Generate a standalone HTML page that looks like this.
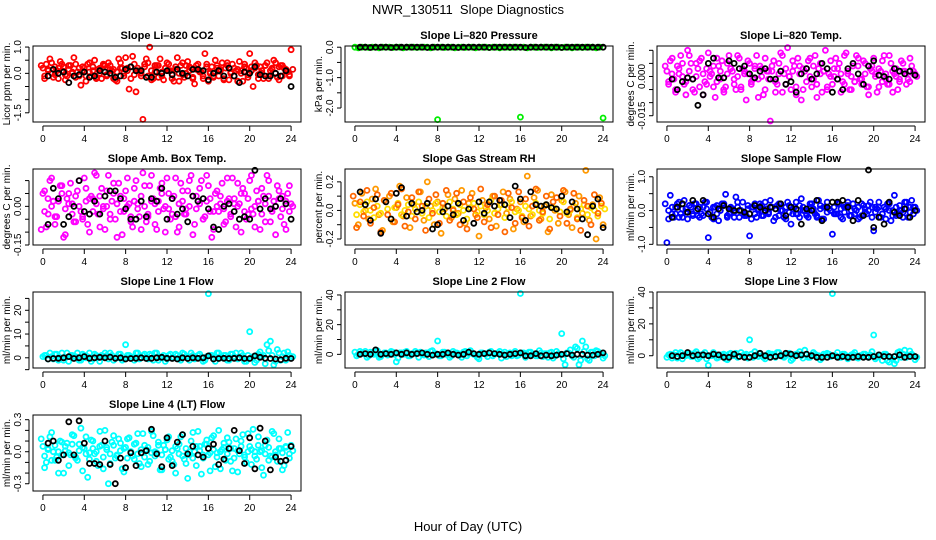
<!DOCTYPE html>
<html><head><meta charset="utf-8"><title>NWR_130511 Slope Diagnostics</title>
<style>
html,body{margin:0;padding:0;background:#fff;}
svg{display:block;font-family:"Liberation Sans",Arial,sans-serif;}
</style></head>
<body>
<svg id="chart" width="936" height="540" viewBox="0 0 936 540" xmlns="http://www.w3.org/2000/svg">
<rect x="0" y="0" width="936" height="540" fill="#fff"/>
<text x="468" y="14" font-size="13" text-anchor="middle" xml:space="preserve">NWR_130511  Slope Diagnostics</text>
<text x="468" y="531" font-size="13" text-anchor="middle">Hour of Day (UTC)</text>
</svg>
<script>
// shared x categories
const hoursColor = [0,0.33,0.67,1,1.33,1.67,2,2.33,2.67,3,
3.33,3.67,4,4.33,4.67,5,5.33,5.67,6,6.33,
6.67,7,7.33,7.67,8,8.33,8.67,9,9.33,9.67,
10,10.33,10.67,11,11.33,11.67,12,12.33,12.67,13,
13.33,13.67,14,14.33,14.67,15,15.33,15.67,16,16.33,
16.67,17,17.33,17.67,18,18.33,18.67,19,19.33,19.67,
20,20.33,20.67,21,21.33,21.67,22,22.33,22.67,23,
23.33,23.67,24];
const hoursBlack = [0.5,1,1.5,2,2.5,3,3.5,4,4.5,5,
5.5,6,6.5,7,7.5,8,8.5,9,9.5,10,
10.5,11,11.5,12,12.5,13,13.5,14,14.5,15,
15.5,16,16.5,17,17.5,18,18.5,19,19.5,20,
20.5,21,21.5,22,22.5,23,23.5,24];
const xTicks = [0,4,8,12,16,20,24];

// Panel 1: CO2 (ppm/min)
const co2A = [0.2,0.35,0.55,-0.15,0.1,0.45,0.25,-0.1,0.3,0.6,
0.05,-0.45,0.2,0.35,-0.1,0.5,0.15,-0.2,0.3,0.4,
0.1,-0.25,0.55,0.2,0.6,-0.6,0.65,-0.7,0.1,-1.75,
0.55,1.0,-0.2,0.3,0.55,-0.25,0.4,0.1,-0.3,0.6,
0.3,-0.15,0.45,0.2,-0.4,0.35,0.05,0.75,-0.3,0.25,
0.5,-0.1,0.4,0.2,-0.25,0.35,0.1,0.45,-0.3,0.2,
0.75,-0.5,0.3,0.25,-0.2,0.4,0.1,0.5,-0.15,0.3,
0.2,0.05,0.9];
const co2B = [-0.1,0.15,0.0,0.25,-0.2,0.1,-0.05,0.3,0.05,-0.15,
0.2,0.1,-0.1,0.05,0.25,-0.2,0.0,0.3,-0.1,0.15,
-0.2,0.05,0.2,-0.1,0.1,0.25,-0.05,0.2,0.0,0.35,
-0.1,0.1,0.3,-0.15,0.05,0.2,0.1,-0.2,0.25,0.0,
-0.05,0.3,0.1,-0.2,0.15,0.05,-0.1,0.25,0.0,-0.15,
0.2,0.1,-0.2,0.3,0.05,-0.1,0.15,0.0,0.25,-0.15,
0.1,0.2,-0.05,0.0,0.3,-0.2,0.15,0.0,0.25,-0.1,
0.1,-0.05,0.15];
const co2C = [0.3,-0.2,0.1,0.4,-0.05,0.2,0.35,-0.25,0.15,0.0,
0.35,-0.1,0.25,-0.3,0.4,0.1,-0.15,0.2,0.35,-0.05,
0.3,0.15,-0.3,0.4,0.0,0.2,-0.2,0.35,0.1,-0.1,
0.25,0.4,-0.25,0.05,0.3,-0.1,0.2,0.35,-0.05,0.15,
-0.3,0.4,0.0,0.25,-0.15,0.3,0.1,-0.2,0.35,0.05,
-0.1,0.3,0.15,-0.25,0.4,0.0,0.2,-0.3,0.1,0.35,
-0.05,0.25,0.4,-0.2,0.1,0.3,-0.1,0.2,0.4,-0.25,
0.3,0.15,-0.1];
const co2K = [-0.1,0.15,0.0,0.05,-0.35,-0.1,-0.05,0.05,-0.15,-0.1,
0.1,0.05,0.0,-0.15,-0.1,0.15,0.25,0.1,0.1,-0.15,
-0.15,0.05,0.0,0.1,-0.05,0.15,0.0,-0.1,0.15,0.15,
0.1,-0.25,0.0,0.1,-0.1,0.2,-0.1,-0.35,0.05,0.0,
0.25,-0.05,-0.1,-0.1,0.0,-0.1,0.1,-0.5];

// Panel 2: Pressure (kPa/min)
const presA = [0,-0.02,0,0,-0.01,0,0,-0.02,0,0,
0,-0.01,0,0,-0.02,0,0,0,-0.01,0,
0,0,-0.02,0,-2.38,0,-0.01,0,0,-0.02,
0,0,-0.01,0,0,-0.02,0,0,0,-0.01,
0,0,-0.02,0,0,-0.01,0,0,-2.3,0,
-0.02,0,0,-0.01,0,0,0,-0.02,0,0,
-0.01,0,0,-0.02,0,0,-0.01,0,0,0,
-0.02,0,-2.33];
const presK = [0,0,-0.01,0,0,0,-0.01,0,0,0,
0,0,0,-0.01,0,0,0,0,0,-0.01,
0,0,0,0,0,-0.01,0,0,0,0,
0,0,-0.01,0,0,0,0,0,0,-0.01,
0,0,0,0,0,0,0,0];

// Panel 3: Li-820 Temp (milli-degC/min)
const tempA = [2,6,-1,4,8,-3,10,5,-6,3,
7,-2,9,1,-8,4,6,-4,8,2,
-5,7,3,-9,5,-1,8,4,-7,2,
-17,6,-3,9,1,11,-5,4,7,-9,
2,6,-4,8,3,-6,10,1,-3,7,
5,-2,9,-5,4,8,-1,6,-4,3,
7,-6,2,8,-3,5,1,-5,6,2,
-1,4,1];
const tempB = [-2,1,-5,3,0,-7,2,-1,5,-4,
1,-3,0,4,-2,2,-5,1,3,-1,
0,-4,2,1,-3,3,-1,0,-5,2,
4,-2,1,-6,3,0,2,-4,1,3,
-2,0,4,-3,1,2,-5,0,3,-1,
1,-3,2,0,-2,4,-1,1,-4,2,
0,3,-2,1,-3,2,0,-1,2,1,
-2,1,0];
const tempC = [4,-3,7,-6,1,5,-2,8,-5,0,
6,-7,3,2,-4,7,-1,-6,5,3,
-3,8,-5,1,6,-2,4,-8,3,7,
-1,2,-6,5,8,-3,0,6,-7,4,
-5,3,7,-1,-8,5,2,-4,6,0,
3,-6,8,1,-5,-2,7,-3,5,-7,
4,1,-4,6,-1,8,-6,3,-2,5,
-3,7,2];
const tempK = [-1,-5,-2,-0.5,-1,-11,-7,5,7,-0.5,
-0.5,6,5,3,4,1,-0.5,2,3,-1,
-1,2,-3,-2,-6,1,3,-1,1,5,
3,-6,-1,-5,3,5,1,-3,4,6,
0.5,0,-1,3,2,1,2,0.5];

// Panel 4: Amb. Box Temp (centi-degC/min)
const ambA = [5,-8,10,2,-4,8,-12,3,9,-6,
6,-2,11,-7,4,13,-3,7,-9,12,
2,-5,9,-11,6,1,-8,10,-4,13,
-6,8,3,-9,7,-1,11,-5,4,-10,
9,-3,6,12,-7,2,10,-4,8,-12,
5,-2,9,-6,3,11,-8,1,7,-5,
10,-3,6,-9,4,12,-6,2,8,-4,
-7,5,1];
const ambB = [-2,3,0,-4,2,5,-1,1,-3,4,
0,-5,2,3,-2,1,4,-1,0,-3,
5,1,-2,3,0,-4,2,-1,4,0,
-3,2,1,-2,5,0,-1,3,-4,1,
2,-3,0,4,-1,1,-5,2,3,-2,
0,4,-1,2,-3,1,0,5,-2,3,
-1,0,2,-3,1,4,-2,0,3,-1,
2,-2,0];
const ambC = [-9,6,-3,11,-7,2,8,-11,5,1,
-6,10,-4,7,-10,3,12,-8,0,6,
-5,9,-12,4,-2,11,-6,7,1,-9,
8,-4,12,-7,2,9,-10,5,-3,11,
-8,6,-1,10,-11,4,7,-5,12,-2,
-9,6,1,-7,11,-4,3,9,-10,5,
-3,12,-8,2,7,-6,10,-1,-11,6,
4,-9,8];
const ambK = [-7,7,3,-7,-4,0,10,-2,-3,2,
-3,4,6,6,3,-1,-5,-5,2,-4,
3,2,7,-5,3,-3,-1,-6,4,2,
3,-1,-8,-9,0,1,-2,-5,-4,-5,
14,-1,3,-1,0,3,1,-5];

// Panel 5: Gas Stream RH (centi-percent/min)
const rhA = [5,-10,12,0,-6,8,15,-3,-14,6,
10,-8,2,17,-4,9,-12,4,-1,13,
-7,20,3,-10,6,-16,1,11,-5,8,
-2,14,-9,5,12,-3,-18,7,2,-6,
10,-11,4,13,-2,8,-13,1,6,-8,
24,-4,9,14,-6,3,-15,11,0,-9,
7,13,-3,-12,5,10,-2,28,-7,4,
-20,9,-10];
const rhB = [-3,4,-1,6,0,-5,3,-2,7,1,
-6,2,5,-3,0,4,-4,1,6,-2,
3,-5,0,5,-1,2,-4,6,1,-3,
4,0,-6,2,5,-1,3,-3,0,7,
-2,1,4,-5,2,6,-1,0,-4,3,
1,-3,5,0,-2,4,-6,2,1,-1,
6,-2,0,3,-5,1,4,-3,2,0,
-4,3,1];
const rhC = [10,-12,6,-4,14,-9,2,11,-15,7,
-3,12,-8,4,15,-11,-1,9,-6,13,
3,-14,8,-2,11,-9,5,14,-7,0,
12,-10,6,-13,9,1,-5,15,-8,4,
-12,10,-3,7,-15,12,2,-9,13,-5,
8,-11,3,15,-7,-1,10,-13,6,9,
-4,14,-9,1,12,-6,-14,7,3,-10,
11,-2,5];
const rhK = [13,4,-7,8,-16,6,-6,12,16,-4,
5,-1,0,5,-13,-10,-1,3,-3,5,
-7,1,-9,6,-2,6,3,7,4,-5,
17,8,-7,13,4,3,4,2,1,10,
-1,6,1,-6,-17,3,8,-12];

// Panel 6: Sample Flow (deci-ml/min per min)
const sfA = [-9.5,4.5,-2,2,-1,3,-2.5,1,2,-1.5,
-1,2.5,-8,-2,1,-3,2,4.8,-1,0.5,
4,-2,2.5,-1.5,-7.5,1,-2,2,-1.5,0.5,
3,-3,1.5,0,-2,2.5,-4,1,-1,3.5,
0,-2,2,-1,3,-2.5,1,0.5,-7,-1,
2,-2.5,1,-1.5,2,0,-2,1.5,-1,2.5,
-6,0.5,-2,1,2,-3,4.5,-1,0,2.5,
-2,3,1];
const sfB = [0,-1,1,-2,0.5,-0.5,1.5,-1,0,1,
-1.5,0.5,-0.5,1,-1,0,1.5,-2,0.5,-0.5,
1,0,-1.5,0.5,1,-1,0,1.5,-0.5,-1,
1,0.5,-1.5,0,1,-0.5,0.5,-1,1.5,0,
-1,1,0,-1.5,0.5,1,-0.5,0,1,-1,
0.5,-0.5,1.5,0,-1,1,-1.5,0.5,0,1,
-0.5,1,-1,0.5,0,-1.5,1,0,-0.5,0.5,
1,-1,0];
const sfC = [2,-2.5,1,-1,2.5,-2,0.5,1.5,-1.5,2,
-2,1,2.5,-0.5,-2.5,1.5,0,2,-1.5,1,
-2,2.5,0,-1,1.5,-2.5,2,0.5,-1.5,2.5,
-0.5,1,-2,2,0,-2.5,1.5,-1,2.5,-2,
1,-1.5,2,0.5,-2,1.5,-2.5,2.5,0,-1,
2,-2,1,2.5,-1.5,0.5,-2.5,2,-0.5,1.5,
-2,1,2.5,-1,-2.5,2,0,-1.5,1.5,-2,
2.5,-0.5,1];
const sfK = [-2,1,2,-0.5,3,0.5,3,-1,-2,0.5,
1.5,0.5,0,0,-0.5,-1,1.5,1,0,1,
0.5,2,-1.5,1,0.5,-4,0.5,0,3,-3,
1,2.5,2.5,3,1,-3,3,-1.5,12,-5,
-2,-4,2.5,-0.5,-1.5,0.5,-2,0];

// Panel 7: Line 1 Flow
const l1A = [0.5,1,2,-0.5,1.5,0,-1,2,1,0.5,
2,-1,1,0.5,-1.5,1.5,0,1,2,-0.5,
1,0,1.5,-1,5.5,1,0,2,-0.5,1,
0.5,1.5,-1,2,0,1,-0.5,1.5,0,1,
-1,1.5,0.5,2,-0.5,1,0,-1,27,1,
-1.5,2,0,1,-1,1.5,2,0,1,-1.5,
11,0.5,-1,2.5,1,5.5,7,-3,3.5,-1,
2,2.5,0];
const l1B = [1,-0.5,0.5,1.5,-1,2,0,-1.5,1,0.5,
-1,1.5,0,2,-0.5,1,-1.5,0.5,1,2,
-1,0,1.5,-0.5,1,0.5,-1,2,0,1.5,
-0.5,1,2,-1,0.5,-1.5,1,0,1.5,-0.5,
2,0.5,-1,1,0,1.5,-1.5,0.5,1,-0.5,
2,0,1,-1,1.5,0.5,-0.5,2,-1.5,1,
0,-2,1.5,0.5,-2.5,3,1,-1.5,2,0.5,
-1,1,0.5];
const l1K = [-0.5,-0.3,-0.2,0,0.5,-0.3,0,0.5,-0.2,0,
0.2,0,0.3,-0.2,0,-0.5,-0.3,-0.2,0,-0.3,
-0.2,0,0.2,-0.2,-0.3,-0.5,0,-0.3,0,-0.2,
0,0.8,-0.5,-0.3,-0.2,-0.3,-0.2,0,-0.3,-0.3,
0.8,0.2,-0.2,-0.3,-0.5,-0.8,-0.2,-0.3];

// Panel 8: Line 2 Flow
const l2A = [1.5,0,1,2,-1,0.5,1.5,-2,0,1,
0.5,1.5,-5,1,0,2,-1,0.5,1,1.5,
-0.5,1,2,0,9,-1,1.5,0,-1,1,
0.5,-2,2,0.5,1,-0.5,-3,1,0,1.5,
-1,0.5,2,0,-1.5,1,0.5,-1,41,1,
-0.5,1.5,0,-1,1,0.5,-2,1.5,-1,0.5,
14,-7,1,-1,5,-7,9,5,-4,1.5,
2.5,1,-2.5];
const l2B = [-1,2,0.5,-2,1.5,0,2.5,-1.5,1,-0.5,
2,0,-2.5,1,1.5,-1,0.5,2,-2,0,
1,-1.5,2.5,0.5,-1,1.5,0,-2,2,1,
-0.5,1.5,-1,2.5,0,-2,1,0.5,-1.5,2,
0,1,-2.5,1.5,0.5,-1,2,-0.5,1,-2,
1.5,0,-1,2.5,-1.5,0.5,1,-2.5,2,0,
-3,1,3,-2,4,-4,2,-3,1.5,-1,
2,0,-1];
const l2K = [0,0.5,0,3,0,0.5,0,1,0,1,
0,0.5,1,0,-0.5,0,0,1,0,-0.5,
0,1.5,0.5,0,0.5,1,0.5,0,-0.5,0,
0.5,1,-1,-1,0.5,-1,-0.5,-1,-0.5,0,
0.5,-0.5,0,0,-0.5,-0.5,0,1];

// Panel 9: Line 3 Flow
const l3A = [-1,1,0.5,-1.5,2,0,1,-0.5,1.5,-2,
0.5,2,-6,0,1,-1,0.5,-2,1,0,
1.5,-0.5,0,1,10,-1,0.5,1.5,-1,0,
1,-0.5,2,0,-1,1,-3,0.5,1,0,
3.5,-1,0.5,1,0,-1.5,0.5,1,39,0,
-1,1,0,-0.5,1,-1,0,1,-0.5,0.5,
13,-1,0,1,-3,-1,-5,2,-1,3.5,
0,1,-2.5];
const l3B = [0.5,-1.5,2,1,-2,0,1.5,-0.5,2.5,-1,
1,-2,0,2,-1.5,0.5,1,-2.5,1.5,0,
-1,2,0.5,-1.5,1,2.5,-0.5,0,-2,1.5,
1,-1,2,-0.5,0,1.5,-2,1,2.5,-1.5,
0.5,-1,2,0,-2.5,1,1.5,-0.5,0,2,
-1,1,-2,0.5,2,-1.5,0,1,-1,2.5,
-2,0.5,-3,1,-4,-2,-3,2.5,1,-1,
3,0,-1];
const l3K = [0,-0.5,0,2,0,0.5,0.5,0,1,0.5,
-1,-1,1,-0.5,-1,-1,0,1.5,0,-1,
-0.5,0,1.5,1,0,0.5,1,0,-1,-1,
-1,0,-1,-0.5,-1,-1,-0.5,-1,-1,-0.5,
0.5,-0.5,-0.5,-0.5,0.5,-1,-0.5,-0.5];

// Panel 10: Line 4 (LT) Flow (centi-units)
const l4A = [5,-10,14,0,-5,10,-20,8,-3,15,
-8,22,3,-24,11,-2,-13,6,20,-30,
9,-6,12,-16,4,13,-4,8,-11,17,
2,-9,15,-1,-17,6,11,-5,-12,3,
14,-7,-25,10,0,19,-21,7,-3,13,
-14,20,2,-8,9,-18,12,-2,16,-10,
5,21,-7,0,-22,11,-4,17,-9,3,
-13,18,6];
const l4B = [-4,2,-8,6,0,-3,5,-1,7,-6,
1,4,-2,-7,3,0,5,-5,2,-2,
6,-4,1,3,-6,0,7,-2,2,-5,
4,-1,0,6,-3,2,-7,1,5,-2,
-4,3,0,-6,5,1,-3,7,-1,2,
-5,0,4,-2,3,-6,1,5,-3,0,
2,-4,6,1,-2,4,-5,0,3,-1,
5,-2,1];
const l4C = [12,-15,3,18,-8,-20,9,1,-13,16,
-5,7,-18,14,-1,10,-9,19,-16,4,
-11,15,-3,8,-19,12,0,-7,17,-14,
6,-12,19,-4,9,-17,2,14,-9,-20,
7,16,-11,-3,18,-13,5,-6,11,-18,
15,-1,-16,8,13,-9,3,-19,10,-5,
17,-12,0,14,-15,6,-8,19,-3,12,
-17,4,-6];
const l4K = [8,10,-8,-3,28,-3,29,8,-11,-11,
-12,10,-12,-30,-6,-15,-1,-13,-1,1,
21,-2,-14,13,-13,9,16,-2,5,-3,
-5,3,7,-12,-7,3,20,1,-11,13,
-16,22,10,-17,-5,-9,-8,5];

// Titles, y tick values and tick labels
const panelTitles = ["Slope Li\u2013820 CO2","Slope Li\u2013820 Pressure","Slope Li\u2013820 Temp.","Slope Amb. Box Temp.","Slope Gas Stream RH","Slope Sample Flow","Slope Line 1 Flow","Slope Line 2 Flow","Slope Line 3 Flow","Slope Line 4 (LT) Flow"];
const yTitles = ["Licor ppm per min.","kPa per min.","degrees C per min.","degrees C per min.","percent per min.","ml/min per min.","ml/min per min.","ml/min per min.","ml/min per min.","ml/min per min."];
const yTicks = [[-1.5,-1,-0.5,0,0.5,1],[-2,-1.5,-1,-0.5,0],[-15,-10,-5,0,5,10],[-15,-10,-5,0,5,10],[-20,-10,0,10,20],[-10,-5,0,5,10],[-5,0,5,10,15,20,25],[0,10,20,30,40],[0,10,20,30,40],[-30,-20,-10,0,10,20,30]];
const yTickLabels = [["-1.5","","","0.0","","1.0"],["-2.0","","-1.0","","0.0"],["-0.015","","","0.000","",""],["-0.15","","","0.00","",""],["-0.2","","0.0","","0.2"],["-1.0","","0.0","","1.0"],["","0","","10","","20",""],["0","","20","","40"],["0","","20","","40"],["-0.3","","","0.0","","","0.3"]];
const yMin = [-1.85,-2.46,-17.4,-15,-24.2,-10.2,-4.3,-9.2,-7.7,-36.8];
const yMax = [1.04,0.04,11.65,14.5,29,12.3,27.7,42,40,34.4];
const seriesA = [co2A,presA,tempA,ambA,rhA,sfA,l1A,l2A,l3A,l4A];
const seriesB = [co2B,null,tempB,ambB,rhB,sfB,l1B,l2B,l3B,l4B];
const seriesC = [co2C,null,tempC,ambC,rhC,sfC,null,null,null,l4C];
const seriesK = [co2K,presK,tempK,ambK,rhK,sfK,l1K,l2K,l3K,l4K];
const colorsA = ["#ff0000","#00ee00","#ff00ff","#ff00ff","#ff9900","#0000ff","#00ffff","#00ffff","#00ffff","#00ffff"];
const colorsB = ["#ee0000","#00ee00","#ff00ff","#ff00ff","#ffdd00","#0000ff","#00ffff","#00ffff","#00ffff","#00ffff"];
const colorsC = ["#ff0000","#00ee00","#ff00ff","#ff00ff","#ff6600","#0000ff","#00ffff","#00ffff","#00ffff","#00ffff"];

const NS = "http://www.w3.org/2000/svg";
const svg = document.getElementById("chart");
const colLeft = [33,345,657];
const rowTop = [46,169,292,415];
const boxW = 268, boxH = 76;

function mk(tag, attrs, parent){
  const e = document.createElementNS(NS, tag);
  for (const k in attrs) e.setAttribute(k, attrs[k]);
  (parent||svg).appendChild(e);
  return e;
}

for (let p = 0; p < 10; p++){
  const L = colLeft[p % 3], T = rowTop[Math.floor(p / 3)];
  const g = mk("g", {});
  
  
  const xs = h => L + (h + 0.96) / 25.92 * boxW;
  const ys = v => T + boxH - (v - yMin[p]) / (yMax[p] - yMin[p]) * boxH;

  const title = mk("text", {x: L + boxW / 2, y: T - 7, "font-size": 11, "font-weight": "bold", "text-anchor": "middle"}, g);
  title.textContent = panelTitles[p];
  
  

  const yt = mk("text", {transform: "translate(" + (L - 23) + "," + (T + boxH / 2) + ") rotate(-90)", "font-size": 10, "text-anchor": "middle"}, g);
  yt.textContent = yTitles[p];
  
  

  const xa = mk("g", {stroke: "#000", "stroke-width": 1}, g);
  
  
  mk("line", {x1: xs(xTicks[0]), x2: xs(xTicks[xTicks.length - 1]), y1: T + boxH + 4, y2: T + boxH + 4}, xa);
  xTicks.forEach(t => {
    mk("line", {x1: xs(t), x2: xs(t), y1: T + boxH + 4, y2: T + boxH + 9}, xa);
    const tl = mk("text", {x: xs(t), y: T + boxH + 20, "font-size": 10, "text-anchor": "middle", stroke: "none"}, g);
    tl.textContent = String(t);
    
    
  });

  const ya = mk("g", {stroke: "#000", "stroke-width": 1}, g);
  
  
  const tks = yTicks[p];
  mk("line", {x1: L - 4, x2: L - 4, y1: ys(tks[0]), y2: ys(tks[tks.length - 1])}, ya);
  tks.forEach((t, i) => {
    mk("line", {x1: L - 8, x2: L - 4, y1: ys(t), y2: ys(t)}, ya);
    if (yTickLabels[p][i]) {
      const tl = mk("text", {transform: "translate(" + (L - 12) + "," + ys(t) + ") rotate(-90)", "font-size": 10, "text-anchor": "middle"}, g);
      tl.textContent = yTickLabels[p][i];
      
      
    }
  });

  const drawSeries = (vals, hours, color, name, dx) => {
    if (!vals) return;
    const sg = mk("g", {fill: "none", stroke: color, "stroke-width": 1.8}, g);
    
    
    const n = Math.min(vals.length, hours.length);
    for (let i = 0; i < n; i++){
      const c = mk("circle", {cx: (xs(hours[i]) + dx).toFixed(1), cy: ys(vals[i]).toFixed(1), r: 2.5}, sg);
      
      
    }
  };
  drawSeries(seriesA[p], hoursColor, colorsA[p], 'series-all', 0);
  drawSeries(seriesB[p], hoursColor, colorsB[p], 'series-all-b', 1.7);
  drawSeries(seriesC[p], hoursColor, colorsC[p], 'series-all-c', -1.7);
  drawSeries(seriesK[p], hoursBlack, "#000", 'series-hourly', 0);

  const box = mk("rect", {x: L, y: T, width: boxW, height: boxH, fill: "none", stroke: "#000", "stroke-width": 1}, g);
  
  
}
</script>
</body></html>
